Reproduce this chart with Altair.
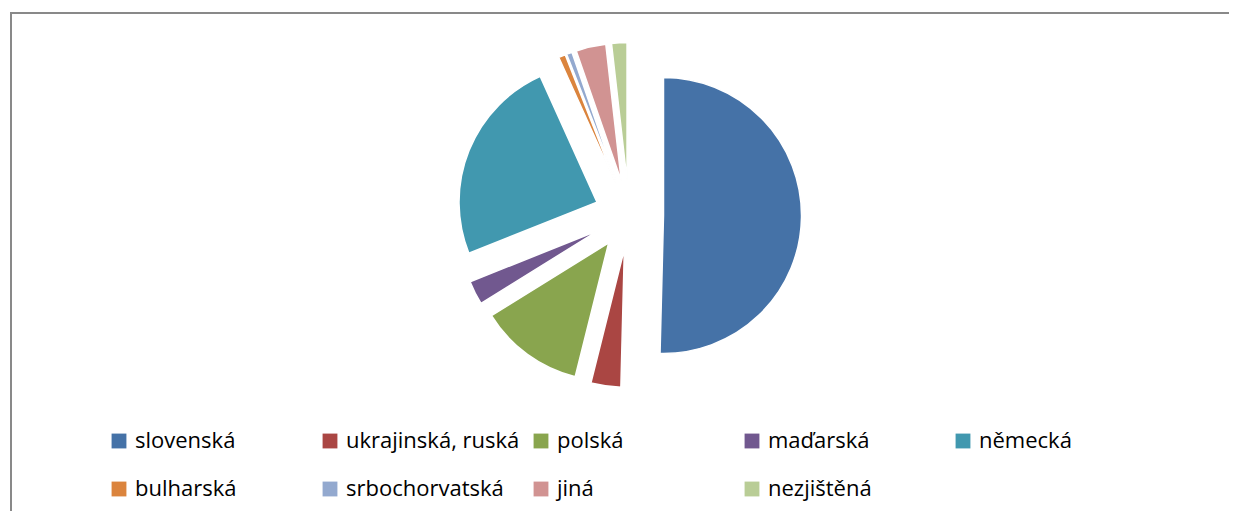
import altair as alt
import pandas as pd

languages = ["slovenská", "ukrajinská, ruská", "polská", "maďarská", "německá",
             "bulharská", "srbochorvatská", "jiná", "nezjištěná"]
shares = [50.4, 3.5, 12.25, 2.8, 24.3, 0.8, 0.65, 3.5, 1.8]
colors = ["#4572A7", "#AA4643", "#89A54E", "#71588F", "#4198AF",
          "#DB843D", "#93A9CF", "#D19392", "#B9CD96"]

W, H = 1221, 503
CX, CY, R = 621, 207, 138
EXPLODE = 0.25 * R

df = pd.DataFrame({"lang": languages, "share": shares, "idx": list(range(len(languages)))})

pie = (
    alt.Chart(df)
    .transform_joinaggregate(total="sum(share)")
    .transform_window(cum="sum(share)", sort=[alt.SortField("idx")], frame=[None, 0])
    .transform_calculate(t1="2*PI*datum.cum/datum.total")
    .transform_calculate(t0="2*PI*(datum.cum-datum.share)/datum.total")
    .transform_calculate(mid="(datum.t0+datum.t1)/2")
    .transform_calculate(px=f"{CX}+{EXPLODE}*sin(datum.mid)")
    .transform_calculate(py=f"{CY}-{EXPLODE}*cos(datum.mid)")
    .mark_arc(radius=R, stroke="white", strokeWidth=1.5)
    .encode(
        x=alt.X("px:Q", scale=None, axis=None),
        y=alt.Y("py:Q", scale=None, axis=None),
        theta=alt.Theta("t0:Q", scale=None),
        theta2=alt.Theta2("t1:Q"),
        color=alt.Color(
            "lang:N",
            scale=alt.Scale(domain=languages, range=colors),
            legend=alt.Legend(
                orient="none", legendX=100, legendY=422, direction="horizontal",
                columns=5, title=None, symbolType="square", symbolSize=220,
                symbolStrokeWidth=0, symbolOpacity=1, labelFont="Open Sans", labelFontSize=22,
                labelColor="black", labelOffset=5, columnPadding=10, rowPadding=26,
                gridAlign="all", labelLimit=400, padding=0,
            ),
        ),
        tooltip=["lang:N", "share:Q"],
    )
)

frame_df = pd.DataFrame({"k": [0]})
top_rule = alt.Chart(frame_df).mark_rule(color="#898989", strokeWidth=2).encode(
    x=alt.value(2), x2=alt.value(W), y=alt.value(5)
)
left_rule = alt.Chart(frame_df).mark_rule(color="#898989", strokeWidth=2).encode(
    x=alt.value(3), y=alt.value(4), y2=alt.value(H)
)

chart = (
    alt.layer(pie, top_rule, left_rule)
    .properties(width=W, height=H, autosize=alt.AutoSizeParams(type="none"), padding=0)
    .configure_view(stroke=None)
)

chart.save("out.html", embed_options={"renderer": "svg", "actions": False})
